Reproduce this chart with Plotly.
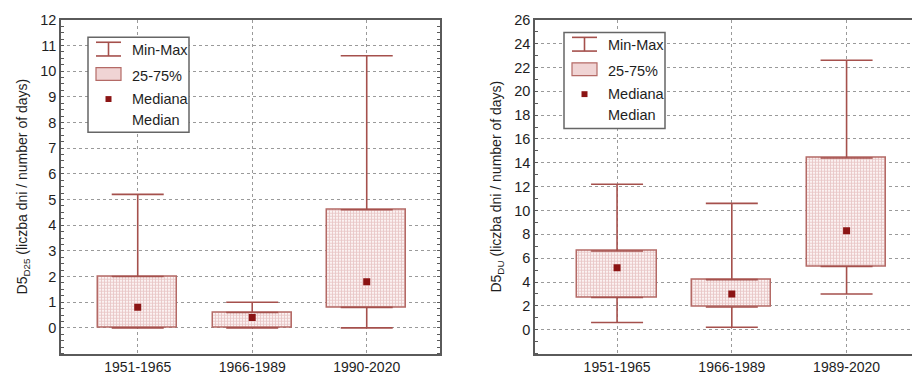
import plotly.graph_objects as go

# ---------------- data ----------------
cats_left = ["1951-1965", "1966-1989", "1990-2020"]
min_left = [0.0, 0.0, 0.0]
q1_left = [0.0, 0.0, 0.8]
med_left = [0.8, 0.4, 1.8]
q3_left = [2.0, 0.6, 4.6]
max_left = [5.2, 1.0, 10.6]

cats_right = ["1951-1965", "1966-1989", "1989-2020"]
min_right = [0.6, 0.2, 3.0]
q1_right = [2.7, 1.9, 5.3]
med_right = [5.2, 3.0, 8.3]
q3_right = [6.6, 4.2, 14.4]
max_right = [12.2, 10.6, 22.6]

yticks_left = list(range(0, 13))
yticks_right = list(range(0, 27, 2))

# ---------------- styles ----------------
W, H = 912, 379
LINE = "#a5504c"
BOX_LINE = "#b46a66"
MED = "#8b1414"
AXIS = "#5a5a5a"
GRID = "#9a9a9a"
FONT = "Liberation Sans, Arial, sans-serif"
TXT = "#1e1e1e"
FS = 14.5

fig = go.Figure()


def add_panel(cats, mn, q1, med, q3, mx, xref, yref):
    # boxes (25-75%)
    fig.add_trace(go.Bar(
        x=cats, y=[b - a for a, b in zip(q1, q3)], base=q1,
        width=0.69, xaxis=xref, yaxis=yref,
        marker=dict(color="white", line=dict(color=BOX_LINE, width=1.5),
                    pattern=dict(shape="+", size=3, solidity=0.5,
                                 fgcolor="#d69a9a", bgcolor="#fbf2f2")),
        showlegend=False, hoverinfo="skip"))
    # upper whiskers (q3 -> max)
    fig.add_trace(go.Scatter(
        x=cats, y=q3, mode="markers", xaxis=xref, yaxis=yref,
        marker=dict(size=1, color="rgba(0,0,0,0)"),
        error_y=dict(type="data", symmetric=False,
                     array=[b - a for a, b in zip(q3, mx)],
                     arrayminus=[0] * len(cats),
                     width=26, thickness=1.6, color=LINE),
        showlegend=False, hoverinfo="skip"))
    # lower whiskers (min -> q1)
    fig.add_trace(go.Scatter(
        x=cats, y=q1, mode="markers", xaxis=xref, yaxis=yref,
        marker=dict(size=1, color="rgba(0,0,0,0)"),
        error_y=dict(type="data", symmetric=False,
                     array=[0] * len(cats),
                     arrayminus=[a - b for a, b in zip(q1, mn)],
                     width=26, thickness=1.6, color=LINE),
        showlegend=False, hoverinfo="skip"))
    # medians
    fig.add_trace(go.Scatter(
        x=cats, y=med, mode="markers", xaxis=xref, yaxis=yref,
        marker=dict(symbol="square", size=7, color=MED),
        showlegend=False, hoverinfo="skip"))


add_panel(cats_left, min_left, q1_left, med_left, q3_left, max_left, "x", "y")
add_panel(cats_right, min_right, q1_right, med_right, q3_right, max_right, "x2", "y2")

top_px, bot_px = 12, 353
ydom = [1 - bot_px / H, 1 - top_px / H]

xcommon = dict(type="category", showgrid=True, gridcolor=GRID, griddash="dot",
               gridwidth=1, showline=True, linecolor=AXIS, linewidth=1.5,
               ticks="", tickfont=dict(size=14, color=TXT, family=FONT),
               zeroline=False, fixedrange=True)
ycommon = dict(showgrid=True, gridcolor=GRID, griddash="dot", gridwidth=1,
               showline=True, linecolor=AXIS, linewidth=1.5, ticks="",
               tickfont=dict(size=FS, color=TXT, family=FONT),
               zeroline=False, fixedrange=True)

fig.update_layout(
    width=W, height=H,
    margin=dict(l=0, r=0, t=0, b=0),
    paper_bgcolor="white", plot_bgcolor="white",
    font=dict(family=FONT, size=FS, color=TXT),
    showlegend=False,
    bargap=0,
    xaxis=dict(**xcommon, domain=[61 / W, 440 / W], range=[-0.67, 2.64],
               mirror=True, anchor="y"),
    yaxis=dict(**ycommon, domain=ydom, range=[-1, 12], tickvals=yticks_left,
               mirror="allticks", anchor="x",
               minor=dict(dtick=0.25, ticks="inside", ticklen=3,
                          tickcolor=AXIS, showgrid=False),
               title=dict(text="D5<sub>D25</sub> (liczba dni / number of days)",
                          font=dict(size=14, family=FONT, color=TXT),
                          standoff=9)),
    xaxis2=dict(**xcommon, domain=[535 / W, 1.0], range=[-0.715, 2.57],
                mirror=True, anchor="y2"),
    yaxis2=dict(**ycommon, domain=ydom, range=[-2, 26], tickvals=yticks_right,
                mirror=False, anchor="x2",
                minor=dict(dtick=1, ticks="inside", ticklen=3,
                           tickcolor=AXIS, showgrid=False),
                title=dict(text="D5<sub>DU</sub> (liczba dni / number of days)",
                           font=dict(size=14, family=FONT, color=TXT),
                           standoff=9)),
)


# ---------------- manual legends ----------------
def add_legend(x0, y0, x1, y1):
    def px(x):
        return x / W

    def py(y):
        return 1 - y / H

    fig.add_shape(type="rect", xref="paper", yref="paper",
                  x0=px(x0), x1=px(x1), y0=py(y1), y1=py(y0),
                  line=dict(color="#666", width=1.5), fillcolor="white", layer="above")
    ix = x0 + 20.5  # icon centre
    # Min-Max icon
    yt, yb = y0 + 5, y0 + 19
    for xa, xb, ya, yb_ in [(ix - 12.5, ix + 12.5, yt, yt), (ix - 12.5, ix + 12.5, yb, yb),
                            (ix, ix, yt, yb)]:
        fig.add_shape(type="line", xref="paper", yref="paper", x0=px(xa), x1=px(xb),
                      y0=py(ya), y1=py(yb_), line=dict(color=LINE, width=1.6), layer="above")
    # box icon
    fig.add_shape(type="rect", xref="paper", yref="paper", x0=px(ix - 12.5), x1=px(ix + 12.5),
                  y0=py(y0 + 44), y1=py(y0 + 31), line=dict(color=BOX_LINE, width=1.2),
                  fillcolor="#f0d4d4", layer="above")
    # median icon
    fig.add_shape(type="rect", xref="paper", yref="paper", x0=px(ix - 3), x1=px(ix + 3),
                  y0=py(y0 + 66), y1=py(y0 + 60), line=dict(width=0),
                  fillcolor=MED, layer="above")
    tx = x0 + 42
    for txt, yy in [("Min-Max", y0 + 13), ("25-75%", y0 + 39),
                    ("Mediana", y0 + 63), ("Median", y0 + 84)]:
        fig.add_annotation(xref="paper", yref="paper", x=px(tx), y=py(yy),
                           text=txt, showarrow=False, xanchor="left", yanchor="middle",
                           font=dict(size=14.5, family=FONT, color=TXT))


add_legend(88, 30, 189, 127)
add_legend(564, 25, 665, 123)

fig.write_html("out.html")
